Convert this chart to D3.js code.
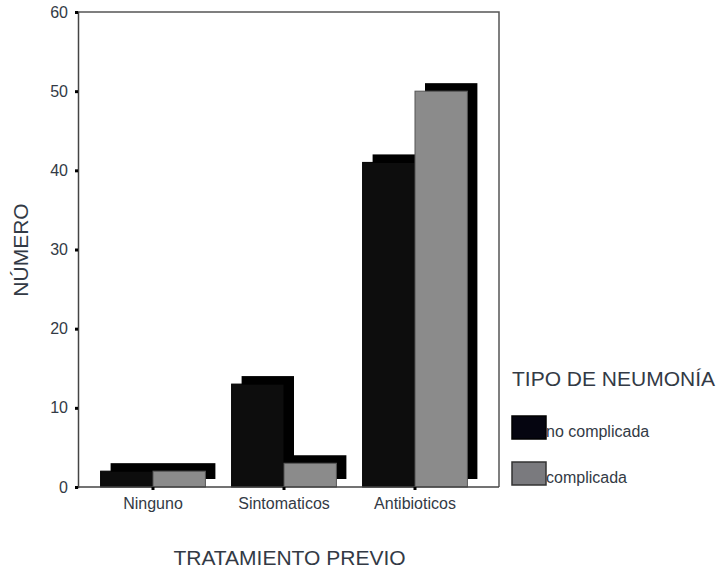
<!DOCTYPE html>
<html>
<head>
<meta charset="utf-8">
<script src="https://cdn.jsdelivr.net/npm/d3@7"></script>
<style>
  html, body { margin: 0; padding: 0; background: #fff; }
  svg { display: block; font-family: "Liberation Sans", Arial, sans-serif; }
</style>
</head>
<body>
<svg id="chart" width="721" height="573"></svg>
<script>
// Tratamiento previo vs. tipo de neumonía
const categories = ["Ninguno", "Sintomaticos", "Antibioticos"];
const seriesNames = ["no complicada", "complicada"];
const noComplicada = [2, 13, 41];
const complicada = [2, 3, 50];
const yTicks = [0, 10, 20, 30, 40, 50, 60];

const seriesValues = [noComplicada, complicada];
const frontColors = ["#0d0d0d", "#8b8b8b"];
const textColor = "#333a45";

const svg = d3.select("#chart");
const plot = { left: 78, right: 499, top: 12, bottom: 487 };

const y = d3.scaleLinear().domain([0, 60]).range([plot.bottom, plot.top]);
const x = d3.scaleBand().domain(categories)
  .range([87.5, 480.5]).paddingInner(0.2).paddingOuter(0.1);
const xs = d3.scaleBand().domain(seriesNames).range([0, x.bandwidth()]);

// shadow offset for the pseudo-3D look
const sdx = 10, sdy = -8;

const rows = [];
categories.forEach((c, i) => {
  seriesNames.forEach((s, j) => rows.push({ cat: c, series: s, j, value: seriesValues[j][i] }));
});

// frame (top and right border)
svg.append("path")
  .attr("d", `M${plot.left},${plot.top}H${plot.right}V${plot.bottom}`)
  .attr("fill", "none").attr("stroke", "#555").attr("stroke-width", 1.5);

// shadows
svg.append("g").selectAll("rect").data(rows).join("rect")
  .attr("x", d => x(d.cat) + xs(d.series) + sdx)
  .attr("y", d => y(d.value) + sdy)
  .attr("width", xs.bandwidth())
  .attr("height", d => plot.bottom - y(d.value))
  .attr("fill", "#000");

// front bars
svg.append("g").selectAll("rect").data(rows).join("rect")
  .attr("x", d => x(d.cat) + xs(d.series))
  .attr("y", d => y(d.value))
  .attr("width", xs.bandwidth())
  .attr("height", d => plot.bottom - y(d.value))
  .attr("fill", d => frontColors[d.j])
  .attr("stroke", d => d.j === 0 ? "#000" : "#555")
  .attr("stroke-width", 1);

// y axis
const yAxis = svg.append("g")
  .attr("transform", `translate(${plot.left},0)`)
  .call(d3.axisLeft(y).tickValues(yTicks).tickSize(3).tickPadding(7));
yAxis.select(".domain").attr("stroke", "#444").attr("stroke-width", 1.5);
yAxis.selectAll(".tick line").attr("stroke", "#000").attr("stroke-width", 3);
yAxis.selectAll("text").attr("fill", textColor)
  .style("font-size", "16px").style("font-family", "Liberation Sans, Arial, sans-serif");

// x axis
const xAxis = svg.append("g")
  .attr("transform", `translate(0,${plot.bottom})`)
  .call(d3.axisBottom(x).tickSize(3).tickPadding(8).tickSizeOuter(0));
xAxis.select(".domain").attr("d", `M${plot.left},0H${plot.right}`)
  .attr("stroke", "#444").attr("stroke-width", 1.5);
xAxis.selectAll(".tick line").attr("stroke", "#000").attr("stroke-width", 3);
xAxis.selectAll("text").attr("fill", textColor)
  .style("font-size", "16px").style("font-family", "Liberation Sans, Arial, sans-serif");

// axis titles
svg.append("text")
  .attr("x", (plot.left + plot.right) / 2 + 1).attr("y", 565)
  .attr("text-anchor", "middle").attr("fill", textColor)
  .style("font-size", "21px")
  .text("TRATAMIENTO PREVIO");

svg.append("text")
  .attr("transform", "translate(28,250) rotate(-90)")
  .attr("text-anchor", "middle").attr("fill", textColor)
  .style("font-size", "21px")
  .text("NÚMERO");

// legend
const legend = svg.append("g").attr("transform", "translate(512,386)");
legend.append("text").attr("x", 0).attr("y", 0)
  .attr("fill", textColor).style("font-size", "21px")
  .text("TIPO DE NEUMONÍA");
const items = legend.selectAll("g.item").data(seriesNames).join("g")
  .attr("class", "item")
  .attr("transform", (d, i) => `translate(0,${30 + i * 46})`);
items.append("rect")
  .attr("width", 34).attr("height", 23)
  .attr("fill", (d, i) => i === 0 ? "#050510" : "#7a7a7e")
  .attr("stroke", (d, i) => i === 0 ? "#000" : "#333")
  .attr("stroke-width", 1.5);
items.append("text")
  .attr("x", 34).attr("y", 21)
  .attr("fill", textColor).style("font-size", "16px")
  .text(d => d);
</script>
</body>
</html>
